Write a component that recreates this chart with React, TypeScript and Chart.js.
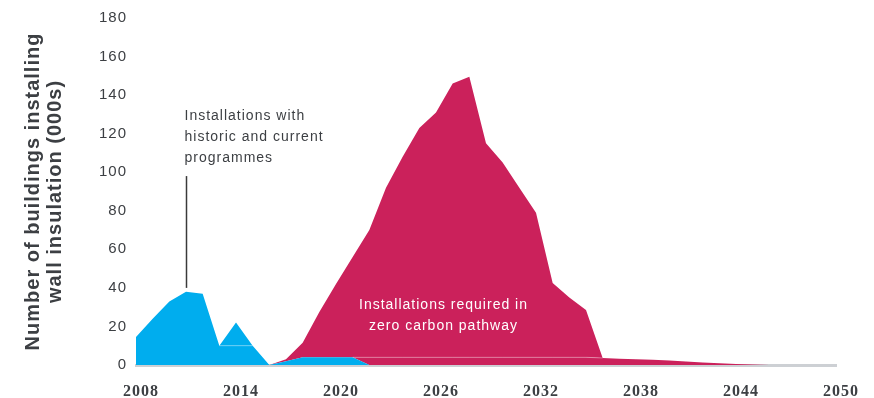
import React, { useEffect, useRef } from 'react';
import { Chart, registerables } from 'chart.js';

Chart.register(...registerables);

// ---- data ----
const years = [
  '2008', '2009', '2010', '2011', '2012', '2013', '2014', '2015', '2016', '2017',
  '2018', '2019', '2020', '2021', '2022', '2023', '2024', '2025', '2026', '2027',
  '2028', '2029', '2030', '2031', '2032', '2033', '2034', '2035', '2036', '2037',
  '2038', '2039', '2040', '2041', '2042', '2043', '2044', '2045', '2046', '2047',
  '2048', '2049', '2050',
];
const shownYears = ['2008', '2014', '2020', '2026', '2032', '2038', '2044', '2050'];
const yTicks = [0, 20, 40, 60, 80, 100, 120, 140, 160, 180];

// historic and current programmes (000s), lower layer
const historicBase = [
  14.5, 24, 33, 38, 37, 10, 10, 10, 0, 2,
  4, 4, 4, 4, 0, 0, 0, 0, 0, 0,
  0, 0, 0, 0, 0, 0, 0, 0, 0, 0,
  0, 0, 0, 0, 0, 0, 0, 0, 0, 0,
  0, 0, 0,
];
// historic and current programmes (000s), upper layer
const historicPeak = [
  0, 0, 0, 0, 0, 0, 12, 0, 0, 0,
  0, 0, 0, 0, 0, 0, 0, 0, 0, 0,
  0, 0, 0, 0, 0, 0, 0, 0, 0, 0,
  0, 0, 0, 0, 0, 0, 0, 0, 0, 0,
  0, 0, 0,
];
// zero carbon pathway (000s), lower layer
const requiredBase = [
  0, 0, 0, 0, 0, 0, 0, 0, 0, 0,
  0, 0, 0, 0, 4, 4, 4, 4, 4, 4,
  4, 4, 4, 4, 4, 4, 4, 4, 3.6, 3.3,
  3.0, 2.7, 2.3, 1.8, 1.3, 0.9, 0.5, 0.2, 0, 0,
  0, 0, 0,
];
// zero carbon pathway (000s), upper layer
const requiredMain = [
  0, 0, 0, 0, 0, 0, 0, 0, 0, 1,
  7.5, 23.5, 38, 52, 66, 88, 104, 119, 127, 142,
  145.5, 111, 101, 88, 75, 38.5, 31, 24.5, 0, 0,
  0, 0, 0, 0, 0, 0, 0, 0, 0, 0,
  0, 0, 0,
];

const historicNote = ['Installations with', 'historic and current', 'programmes'];
const requiredNote = ['Installations required in', 'zero carbon pathway'];
const yTitle = ['Number of buildings installing', 'wall insulation (000s)'];

// ---- styles ----
const BLUE = '#00adee';
const RED = '#cb215b';
const TEXT = '#3c3f43';
const BASELINE = '#cdd0d4';
const SEAM = 'rgba(255,255,255,0.3)';

function drawSeam(ctx: any, chart: any, dsIndex: number, from: number, to: number) {
  const pts = chart.getDatasetMeta(dsIndex).data;
  ctx.beginPath();
  for (let i = from; i <= to; i++) {
    const p = pts[i];
    if (i === from) ctx.moveTo(p.x, p.y);
    else ctx.lineTo(p.x, p.y);
  }
  ctx.stroke();
}

const annotations = {
  id: 'annotations',
  afterDatasetsDraw(chart: any) {
    const { ctx, scales } = chart;
    const x = scales.x;
    const y = scales.y;
    ctx.save();
    // faint seams between stacked layers
    ctx.strokeStyle = SEAM;
    ctx.lineWidth = 1;
    drawSeam(ctx, chart, 0, 5, 7);
    drawSeam(ctx, chart, 2, 13, 28);

    ctx.letterSpacing = '1px';
    // pointer line for historic note
    const lx = Math.round(x.getPixelForValue(3)) + 0.5;
    ctx.strokeStyle = '#3a3a3a';
    ctx.lineWidth = 1.5;
    ctx.beginPath();
    ctx.moveTo(lx, y.getPixelForValue(98));
    ctx.lineTo(lx, y.getPixelForValue(40));
    ctx.stroke();

    ctx.font = '14px "Liberation Sans", Arial, sans-serif';
    ctx.textBaseline = 'middle';
    ctx.fillStyle = TEXT;
    ctx.textAlign = 'left';
    const hy = y.getPixelForValue(129);
    historicNote.forEach((t, i) => ctx.fillText(t, lx - 2, hy + i * 21));

    ctx.fillStyle = '#ffffff';
    ctx.textAlign = 'center';
    const rx = x.getPixelForValue(18.45);
    const ry = y.getPixelForValue(31);
    requiredNote.forEach((t, i) => ctx.fillText(t, rx, ry + i * 21));
    ctx.restore();
  },
};

const spacing = {
  id: 'spacing',
  beforeDraw(chart: any) {
    chart.ctx.letterSpacing = '1px';
  },
};

function area(label: string, data: number[], color: string, fill: any) {
  return {
    label,
    data,
    backgroundColor: color,
    borderColor: color,
    borderWidth: 0,
    fill,
    pointRadius: 0,
    tension: 0,
  };
}

export default function App() {
  const ref = useRef<HTMLCanvasElement | null>(null);

  useEffect(() => {
    document.body.style.margin = '0';
    const canvas = ref.current;
    if (!canvas) return;
    const chart = new Chart(canvas, {
      type: 'line',
      data: {
        labels: years,
        datasets: [
          area('Historic base', historicBase, BLUE, 'origin'),
          area('Historic peak', historicPeak, BLUE, '-1'),
          area('Required base', requiredBase, RED, '-1'),
          area('Required main', requiredMain, RED, '-1'),
        ],
      },
      options: {
        responsive: false,
        animation: false,
        maintainAspectRatio: false,
        layout: { padding: { left: 0, right: 38, top: 17, bottom: 0 } },
        plugins: {
          legend: { display: false },
          tooltip: { enabled: false },
        },
        scales: {
          x: {
            type: 'category',
            offset: false,
            z: 1,
            grid: { display: false, drawTicks: false },
            border: { display: true, color: BASELINE, width: 3 },
            afterFit: (s: any) => {
              s.height = 33;
            },
            ticks: {
              autoSkip: false,
              maxRotation: 0,
              minRotation: 0,
              padding: 17,
              labelOffset: 5,
              color: TEXT,
              font: { family: '"Liberation Serif", "Times New Roman", serif', size: 16, weight: 'bold' },
              callback: (_v: any, i: number) => (shownYears.includes(years[i]) ? years[i] : ''),
            },
          },
          y: {
            stacked: true,
            min: 0,
            max: 180,
            grid: { display: false, drawTicks: false },
            border: { display: false },
            afterFit: (s: any) => {
              s.width = 136;
            },
            afterBuildTicks: (s: any) => {
              s.ticks = yTicks.map((v) => ({ value: v }));
            },
            ticks: {
              padding: 9,
              color: TEXT,
              font: { family: '"Liberation Sans", Arial, sans-serif', size: 15 },
            },
            title: {
              display: true,
              text: yTitle,
              color: TEXT,
              padding: { top: 22, bottom: 0 },
              font: { family: '"Liberation Sans", Arial, sans-serif', size: 20, weight: 'bold', lineHeight: 1.1 },
            },
          },
        },
      },
      plugins: [spacing, annotations],
    });
    return () => chart.destroy();
  }, []);

  return <canvas ref={ref} width={874} height={398} style={{ display: 'block' }} />;
}
